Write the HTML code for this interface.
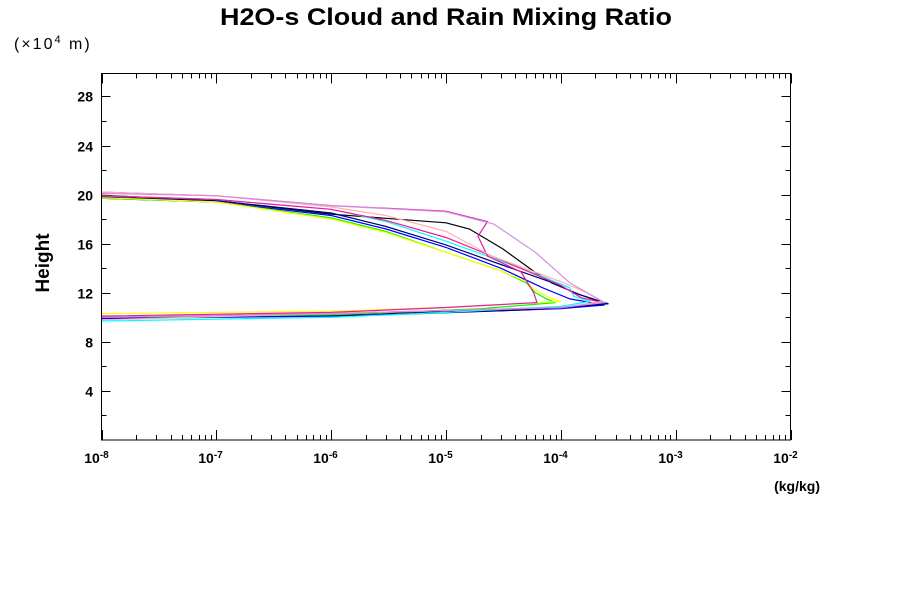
<!DOCTYPE html>
<html><head><meta charset="utf-8"><style>
body{margin:0;background:#fff;}
svg{display:block;font-family:"Liberation Sans",sans-serif;}
</style></head><body>
<svg id="chart" width="900" height="600" xmlns="http://www.w3.org/2000/svg">
<rect width="900" height="600" fill="#fff"/>
<text x="446" y="25" text-anchor="middle" font-size="24" font-weight="bold" textLength="452" lengthAdjust="spacingAndGlyphs">H2O-s Cloud and Rain Mixing Ratio</text>
<text x="14" y="49" font-size="16" letter-spacing="2">(×10<tspan dy="-6" font-size="11">4</tspan><tspan dy="6"> m)</tspan></text>
<text transform="translate(49,263) rotate(-90)" text-anchor="middle" font-size="19" font-weight="bold">Height</text>
<text x="820" y="491" text-anchor="end" font-size="14" font-weight="bold">(kg/kg)</text>
<g id="ticks"></g>
<g id="series"></g>
<rect x="101.5" y="73.5" width="689" height="366.5" fill="none" stroke="#000" stroke-width="1"/>
</svg>
<script>
const xTickExps = [-8,-7,-6,-5,-4,-3,-2];
const yTickLabels = [4,8,12,16,20,24,28];
const yMinorTicks = [2,6,10,14,18,22,26];
const seriesColors = ["#000000","#0000ff","#000080","#00ffff","#00ff00","#ffff00","#e020a0","#ff1493","#ffb0b0","#d090e0"];
const hBlack = [19.95,19.5,18.4,17.7,17.2,15.6,13.7,12.8,11.8,11.1,10.8,10.5,10.2,9.9];
const vBlack = [1e-8,1e-7,1e-6,1e-5,1.6e-5,3.1e-5,5.9e-5,8.3e-5,1.5e-4,2.5e-4,1e-4,1e-5,1e-6,1e-8];
const hBlue = [19.7,19.4,18.3,17.2,15.7,14.0,12.4,11.5,11.0,10.7,10.4,10.1,9.9];
const vBlue = [1e-8,1e-7,1e-6,3e-6,1e-5,3e-5,7e-5,1.2e-4,2.4e-4,1e-4,1e-5,1e-6,1e-8];
const hNavy = [19.8,19.5,18.5,17.4,15.9,14.3,12.9,11.9,11.1,10.6,10.2,10.0];
const vNavy = [1e-8,1e-7,1e-6,3e-6,1e-5,3e-5,8e-5,1.4e-4,2.6e-4,5e-5,3e-6,1e-8];
const hCyan = [19.9,19.6,18.8,17.8,16.2,14.6,13.3,12.4,11.7,11.3,10.9,10.4,10.0,9.7];
const vCyan = [1e-8,1e-7,1e-6,3e-6,1e-5,3e-5,7e-5,1.2e-4,1.3e-4,1.8e-4,1e-4,1e-5,1e-6,1e-8];
const hGreen = [19.7,19.4,18.1,17.0,15.3,13.8,12.8,12.0,11.5,11.2,10.7,10.2,10.0];
const vGreen = [1e-8,1e-7,1e-6,3e-6,1e-5,3e-5,5e-5,6e-5,7.5e-5,9e-5,2e-5,1e-6,1e-8];
const hYellow = [19.75,19.4,18.0,16.9,15.3,13.8,12.9,12.2,11.6,11.3,10.8,10.5,10.3];
const vYellow = [1e-8,1e-7,1e-6,3e-6,1e-5,3e-5,5e-5,6e-5,8e-5,1e-4,1e-5,1e-6,1e-8];
const hMagenta = [20.2,19.9,19.1,18.65,17.8,16.6,15.0,13.7,12.0,11.2,10.8,10.4,10.1];
const vMagenta = [1e-8,1e-7,1e-6,1e-5,2.3e-5,1.9e-5,2.3e-5,4.5e-5,5.8e-5,6.2e-5,1e-5,1e-6,1e-8];
const hHotpink = [19.9,19.6,18.8,17.9,16.5,15.0,13.8,12.6,11.6,11.2,10.8,10.3,10.0];
const vHotpink = [1e-8,1e-7,1e-6,3e-6,1e-5,2.5e-5,5e-5,1e-4,1.5e-4,2.3e-4,1e-4,1e-6,1e-8];
const hLightpink = [20.2,19.9,19.0,18.3,17.0,15.0,12.9,12.0,11.3,10.8,10.3,9.8];
const vLightpink = [1e-8,1e-7,1e-6,3e-6,1e-5,2.5e-5,1e-4,1.7e-4,2.3e-4,1e-4,1e-6,1e-8];
const hPlum = [20.1,19.9,19.1,18.6,17.6,15.3,12.8,11.2,10.8,10.3,10.0];
const vPlum = [1e-8,1e-7,1e-6,1e-5,2.6e-5,6e-5,1.2e-4,2.4e-4,1e-4,1e-6,1e-8];
const allH = [hBlack,hBlue,hNavy,hCyan,hGreen,hYellow,hMagenta,hHotpink,hLightpink,hPlum];
const allV = [vBlack,vBlue,vNavy,vCyan,vGreen,vYellow,vMagenta,vHotpink,vLightpink,vPlum];
const seriesNames = ["black","blue","navy","cyan","green","yellow","magenta","hotpink","lightpink","plum"];

const X0=101.5, X1=790.5, Y0=440, Y1=73.5;
const xs = v => X0 + (Math.log10(v)+8)/6*(X1-X0);
const ys = h => Y0 - h/29.87*(Y0-Y1);
const NS="http://www.w3.org/2000/svg";
const tg=document.getElementById('ticks'), sg=document.getElementById('series');
function ln(x1,y1,x2,y2,name){const l=document.createElementNS(NS,'line');
l.setAttribute('x1',x1);l.setAttribute('y1',y1);l.setAttribute('x2',x2);l.setAttribute('y2',y2);
l.setAttribute('stroke','#000');


tg.appendChild(l);}
xTickExps.forEach((e,i)=>{
  const x=Math.round(xs(Math.pow(10,e)))+0.5;
  ln(x,Y0,x,Y0-10,'x-major-tick');ln(x,Y1,x,Y1+10,'x-major-tick');
  const t=document.createElementNS(NS,'text');
  t.setAttribute('x',x-6);t.setAttribute('y',463);t.setAttribute('font-size','14');t.setAttribute('font-weight','bold');
  t.setAttribute('text-anchor','middle');
  t.innerHTML='10<tspan dy="-5" font-size="10">'+e+'</tspan>';
  
  
  tg.appendChild(t);
  if(i<xTickExps.length-1){for(let k=2;k<=9;k++){const xm=Math.round(xs(k*Math.pow(10,e)))+0.5;
    ln(xm,Y0,xm,Y0-5,'x-minor-tick');ln(xm,Y1,xm,Y1+5,'x-minor-tick');}}
});
yTickLabels.forEach(h=>{const y=Math.round(ys(h))+0.5;
  ln(X0,y,X0+9,y,'y-major-tick');ln(X1,y,X1-9,y,'y-major-tick');
  const t=document.createElementNS(NS,'text');
  t.setAttribute('x',93);t.setAttribute('y',y+5);t.setAttribute('text-anchor','end');
  t.setAttribute('font-size','14');t.setAttribute('font-weight','bold');t.textContent=h;
  
  
  tg.appendChild(t);});
yMinorTicks.forEach(h=>{const y=Math.round(ys(h))+0.5;
  ln(X0,y,X0+5,y,'y-minor-tick');ln(X1,y,X1-5,y,'y-minor-tick');});
allH.forEach((hs,i)=>{
  const vs=allV[i];
  const p=document.createElementNS(NS,'polyline');
  p.setAttribute('points',hs.map((h,j)=>xs(vs[j]).toFixed(1)+','+ys(h).toFixed(1)).join(' '));
  p.setAttribute('fill','none');p.setAttribute('stroke',seriesColors[i]);p.setAttribute('stroke-width','1.2');
  
  
  sg.appendChild(p);
});
</script>
</body></html>
